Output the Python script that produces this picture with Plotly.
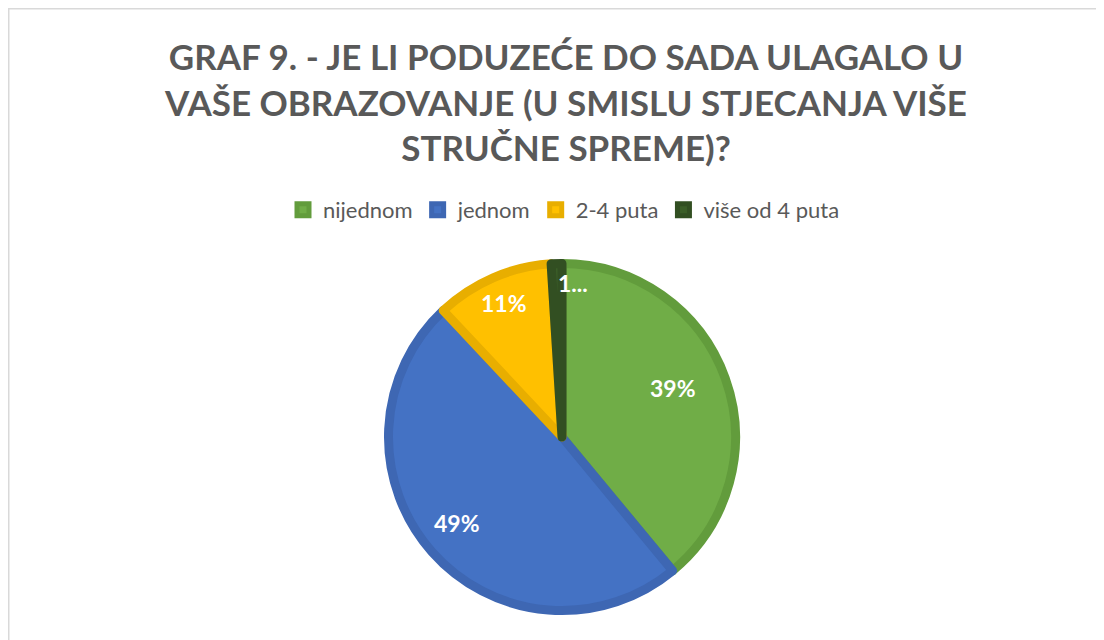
import math
import plotly.graph_objects as go

categories = ["nijednom", "jednom", "2-4 puta", "više od 4 puta"]
values = [39, 49, 11, 1]
slice_labels = ["39%", "49%", "11%", "1..."]
fill_colors = ["#70AD47", "#4472C4", "#FFC000", "#3B5E28"]
edge_colors = ["#629C3C", "#3E67B3", "#E8AE00", "#324F22"]
title_text = ("GRAF 9. - JE LI PODUZEĆE DO SADA ULAGALO U<br>"
              "VAŠE OBRAZOVANJE (U SMISLU STJECANJA VIŠE<br>"
              "STRUČNE SPREME)?")

# label placement (fraction of radius, angular offset in degrees) - style only
label_radius = [0.68, 0.76, 0.82, 0.87]
label_shift = [-4, 2, 0, 6]

W, H = 1104, 640
OFF = 8  # page body margin
cx, cy, r = 562 - OFF, 437 - OFF, 173.5
R_out = 178

fig = go.Figure()
fig.add_trace(go.Pie(
    labels=categories,
    values=values,
    textinfo="none",
    sort=False,
    direction="clockwise",
    rotation=0,
    marker=dict(colors=fill_colors, line=dict(color=edge_colors, width=9)),
    domain=dict(x=[(cx - r) / W, (cx + r) / W],
                y=[(H - cy - r) / H, (H - cy + r) / H]),
    hoverinfo="label+percent",
))

total = sum(values)
cum = 0
annotations = []
for v, t, rf, sh in zip(values, slice_labels, label_radius, label_shift):
    mid = (cum + v / 2) / total * 360 + sh
    cum += v
    th = math.radians(mid)
    px = cx + rf * R_out * math.sin(th)
    py = cy - rf * R_out * math.cos(th)
    annotations.append(dict(x=px / W, y=1 - py / H, xref="paper", yref="paper",
                            text=t, showarrow=False, xanchor="center", yanchor="middle",
                            font=dict(family="Lato", size=23, color="white", weight="bold")))

fig.update_layout(
    width=W, height=H,
    margin=dict(l=0, r=0, t=0, b=0),
    paper_bgcolor="white",
    plot_bgcolor="white",
    title=dict(text=title_text, x=(566 - OFF) / W, xanchor="center", y=1 - 62 / H, yanchor="top",
               font=dict(family="Lato", size=35, color="#595959", weight="bold")),
    legend=dict(orientation="h", x=(564 - OFF) / W, xanchor="center", y=1 - (210 - OFF) / H,
                yanchor="middle",
                font=dict(family="Lato", size=22, color="#595959")),
    annotations=annotations,
    shapes=[dict(type="rect", xref="paper", yref="paper",
                 x0=0, x1=1.05, y0=-0.05, y1=1,
                 line=dict(color="#D9D9D9", width=3), fillcolor="rgba(0,0,0,0)")],
)

fig.write_html("out.html")
